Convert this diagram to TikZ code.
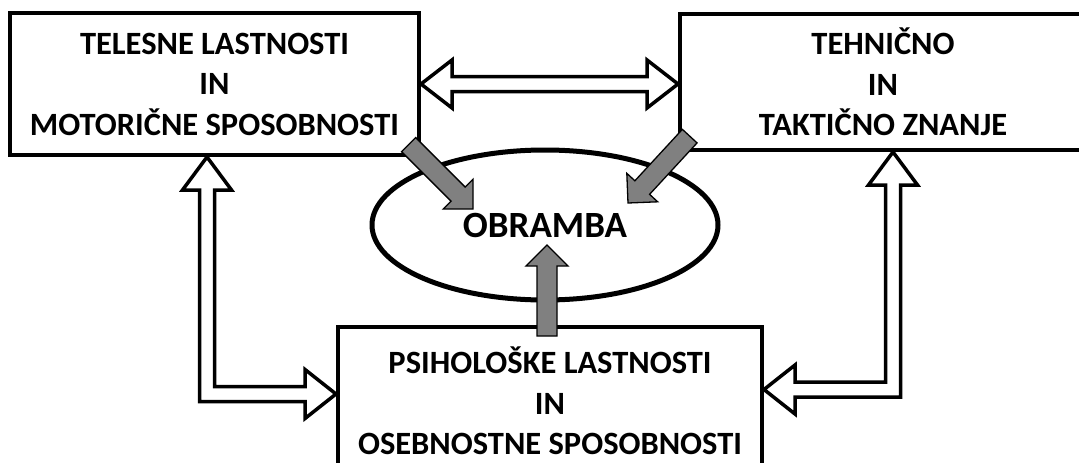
\documentclass[tikz,border=0pt]{standalone}
\usepackage{fontspec}
\setmainfont{Carlito}
\usepackage{tikz}
\usetikzlibrary{calc, shapes.geometric}

\begin{document}
\begin{tikzpicture}[
    x=1pt, y=-1pt,
    box node/.style={rectangle, draw, line width=4pt, align=center, font=\fontsize{32.5}{40.5}\selectfont\bfseries},
    goal node/.style={ellipse, draw, line width=5pt, inner sep=0pt, minimum width=346, minimum height=150, font=\fontsize{37}{40}\selectfont\bfseries},
    hollow arrow/.style={draw, fill=white, line width=3.5pt, line join=miter},
    gray arrow/.style={draw, fill=gray, line width=1.3pt, line join=miter},
    fat arrow/.pic={\draw[gray arrow] (0,0) -- (-21,21) -- (-21,10) -- (-91,10) -- (-91,-10) -- (-21,-10) -- (-21,-21) -- cycle;}
]
\useasboundingbox (0,0) rectangle (1079,463);
\clip (0,0) rectangle (1079,463);

% Main Nodes
\node[box node, minimum width=409, minimum height=142] (tl) at (214.5,84) {TELESNE LASTNOSTI\\IN\\MOTORIČNE SPOSOBNOSTI};
\node[box node, minimum width=406, minimum height=136] (tr) at (883,82) {TEHNIČNO\\IN\\TAKTIČNO ZNANJE};
\node[box node, minimum width=424, minimum height=148] (bt) at (550,401) {PSIHOLOŠKE LASTNOSTI\\IN\\OSEBNOSTNE SPOSOBNOSTI};
\node[goal node] (ob) at (545,225) {OBRAMBA};

% Hollow arrows
\coordinate (hL) at (tl.east);
\coordinate (hR) at (tr.west |- tl.east);
\draw[hollow arrow] (hL) -- ++(31,-24) -- ++(0,16.5) -- ($(hR)+(-31,-7.5)$) -- ++(0,-16.5) -- (hR) -- ++(-31,24) -- ++(0,-16.5) -- ($(hL)+(31,7.5)$) -- ++(0,16.5) -- cycle;

\coordinate (lUp) at ($(tl.south)+(-7.5,0)$);
\coordinate (lRight) at ($(bt.west)+(0,-7)$);
\draw[hollow arrow] (lUp) -- ++(24.5,33) -- ++(-17,0) |- ($(lRight)+(-31,-7.5)$) -- ++(0,-17) -- (lRight) -- ++(-31,24.5) -- ++(0,-17) -| ($(lUp)+(-7.5,33)$) -- ++(-17,0) -- cycle;

\coordinate (rUp) at ($(tr.south)+(10,0)$);
\coordinate (rLeft) at ($(bt.east)+(0,-11.5)$);
\draw[hollow arrow] (rUp) -- ++(-24.5,33) -- ++(17,0) |- ($(rLeft)+(31,-7.5)$) -- ++(0,-17) -- (rLeft) -- ++(31,24.5) -- ++(0,-17) -| ($(rUp)+(7.5,33)$) -- ++(17,0) -- cycle;

% Gray arrows into OBRAMBA
\coordinate (lTip) at (473,209);
\coordinate (rTip) at (628,203);
\coordinate (uTip) at (547,245);
\pic[rotate=-45] at (lTip) {fat arrow};
\pic[rotate=-132.7] at (rTip) {fat arrow};
\pic[rotate=90] at (uTip) {fat arrow};
\end{tikzpicture}
\end{document}
